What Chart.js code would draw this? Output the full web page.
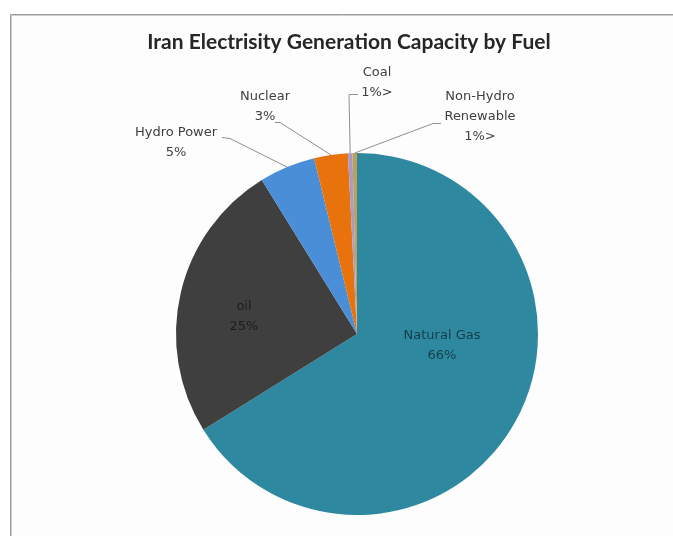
<!DOCTYPE html>
<html>
<head>
<meta charset="utf-8">
<title>Iran Electrisity Generation Capacity by Fuel</title>
<script src="https://cdn.jsdelivr.net/npm/chart.js@4"></script>
<style>
  html, body { margin: 0; padding: 0; background: #ffffff; }
  #fuelChart { display: block; }
</style>
</head>
<body>
<canvas id="fuelChart" width="673" height="536"></canvas>
<script>
// capacity share by fuel, percent
const fuels = ["Natural Gas", "oil", "Hydro Power", "Nuclear", "Coal", "Non-Hydro Renewable"];
const capacityShare = [66, 25, 5, 3, 0.4, 0.4];
const shareLabels = ["66%", "25%", "5%", "3%", "1%>", "1%>"];
const labelLines = [["Natural Gas"], ["oil"], ["Hydro Power"], ["Nuclear"], ["Coal"], ["Non-Hydro", "Renewable"]];
const sliceColors = ["#2e889f", "#3f3f3f", "#4a8ed8", "#e8720c", "#a99bc4", "#b9a25e"];

// where each label sits, relative to the pie centre
const labelSpots = [
  { dx: 85, dy: 2, inside: true },
  { dx: -113, dy: -27, inside: true },
  { dx: -181, dy: -201, lead: [-135, -197], elbow: [-127, -196] },
  { dx: -92, dy: -237, lead: [-82, -212], elbow: [-77, -212] },
  { dx: 20, dy: -261, lead: [1, -240], elbow: [-8, -240] },
  { dx: 123, dy: -237, lead: [84, -211], elbow: [76, -211] }
];

const frameAndTitle = {
  id: 'frameAndTitle',
  beforeDraw(chart) {
    const c = chart.ctx;
    c.save();
    c.fillStyle = '#ffffff';
    c.fillRect(0, 0, chart.width, chart.height);
    c.fillStyle = '#fdfdfd';
    c.fillRect(11, 15, chart.width - 11, chart.height - 15);
    c.strokeStyle = '#9c9c9c';
    c.lineWidth = 1;
    c.beginPath();
    c.moveTo(10.5, chart.height);
    c.lineTo(10.5, 14.5);
    c.lineTo(chart.width, 14.5);
    c.stroke();
    c.strokeStyle = '#cfcfcf';
    c.beginPath();
    c.moveTo(11.5, chart.height);
    c.lineTo(11.5, 15.5);
    c.lineTo(chart.width, 15.5);
    c.stroke();
    c.fillStyle = '#262626';
    c.font = 'bold 21px Lato';
    c.textAlign = 'center';
    c.textBaseline = 'middle';
    c.fillText('Iran Electrisity Generation Capacity by Fuel', 349, 42);
    c.restore();
  }
};

const sliceLabels = {
  id: 'sliceLabels',
  afterDatasetsDraw(chart) {
    const c = chart.ctx;
    const arcs = chart.getDatasetMeta(0).data;
    c.save();
    c.font = '13px "DejaVu Sans"';
    c.textAlign = 'center';
    c.textBaseline = 'middle';
    arcs.forEach((arc, i) => {
      const p = arc.getProps(['x', 'y', 'startAngle', 'endAngle', 'outerRadius'], true);
      const spot = labelSpots[i];
      const lines = labelLines[i].concat([shareLabels[i]]);
      if (!spot.inside) {
        const mid = (p.startAngle + p.endAngle) / 2;
        const ex = p.x + Math.cos(mid) * p.outerRadius;
        const ey = p.y + Math.sin(mid) * p.outerRadius;
        c.strokeStyle = '#8f8f8f';
        c.lineWidth = 1;
        c.beginPath();
        c.moveTo(p.x + spot.lead[0], p.y + spot.lead[1] + 0.5);
        c.lineTo(p.x + spot.elbow[0], p.y + spot.elbow[1] + 0.5);
        c.lineTo(ex, ey);
        c.stroke();
        c.fillStyle = '#404040';
      } else {
        c.fillStyle = 'rgba(0, 0, 0, 0.55)';
      }
      lines.forEach((t, k) => {
        c.fillText(t, p.x + spot.dx, p.y + spot.dy + k * 20);
      });
    });
    c.restore();
  }
};

new Chart(document.getElementById('fuelChart'), {
  type: 'pie',
  data: {
    labels: fuels,
    datasets: [{
      data: capacityShare,
      backgroundColor: sliceColors,
      borderWidth: 0
    }]
  },
  options: {
    responsive: false,
    animation: false,
    layout: { padding: { top: 153, bottom: 21, left: 176, right: 135 } },
    plugins: {
      legend: { display: false },
      tooltip: { enabled: false },
      title: { display: false }
    }
  },
  plugins: [frameAndTitle, sliceLabels]
});
</script>
</body>
</html>
